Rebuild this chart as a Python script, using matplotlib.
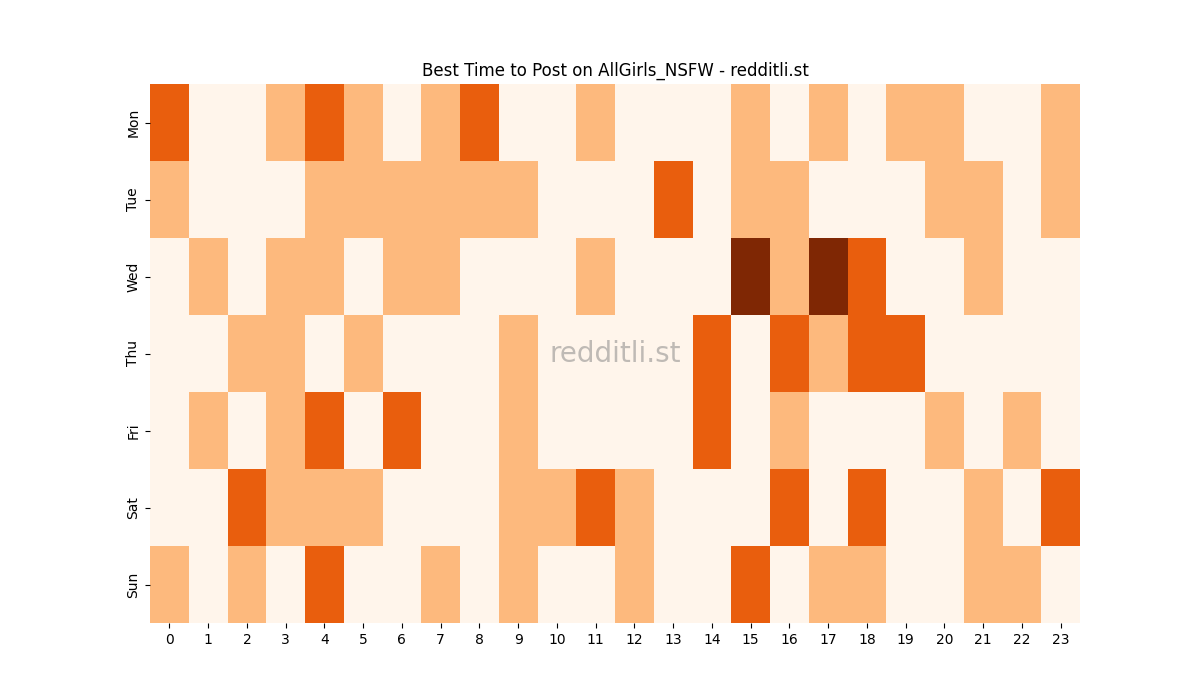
import matplotlib
matplotlib.use("Agg")
import matplotlib.pyplot as plt
import seaborn as sns
import numpy as np

days = ["Mon", "Tue", "Wed", "Thu", "Fri", "Sat", "Sun"]
hours = list(range(24))
mon = [2,0,0,1,2,1,0,1,2,0,0,1,0,0,0,1,0,1,0,1,1,0,0,1]
tue = [1,0,0,0,1,1,1,1,1,1,0,0,0,2,0,1,1,0,0,0,1,1,0,1]
wed = [0,1,0,1,1,0,1,1,0,0,0,1,0,0,0,3,1,3,2,0,0,1,0,0]
thu = [0,0,1,1,0,1,0,0,0,1,0,0,0,0,2,0,2,1,2,2,0,0,0,0]
fri = [0,1,0,1,2,0,2,0,0,1,0,0,0,0,2,0,1,0,0,0,1,0,1,0]
sat = [0,0,2,1,1,1,0,0,0,1,1,2,1,0,0,0,2,0,2,0,0,1,0,2]
sun = [1,0,1,0,2,0,0,1,0,1,0,0,1,0,0,2,0,1,1,0,0,1,1,0]

data = np.array([mon, tue, wed, thu, fri, sat, sun])

fig, ax = plt.subplots(figsize=(12, 7), dpi=100)
sns.heatmap(data, cmap="Oranges", vmin=0, vmax=3, cbar=False, ax=ax,
            xticklabels=hours, yticklabels=days)
ax.set_title("Best Time to Post on AllGirls_NSFW - redditli.st")
ax.text(0.5, 0.5, "redditli.st", transform=ax.transAxes, ha="center", va="center",
        fontsize=20, color="gray", alpha=0.5)
fig.savefig("out.png")
